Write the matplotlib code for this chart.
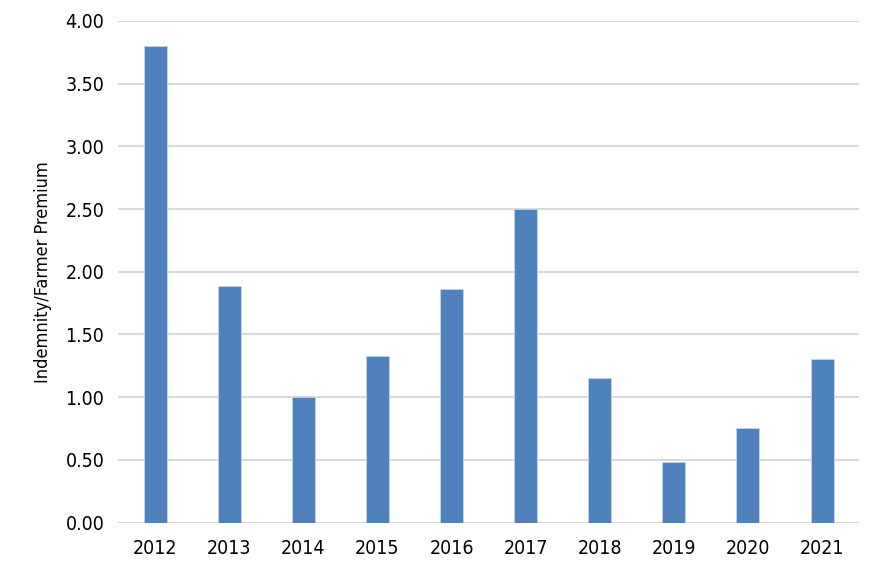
import matplotlib
matplotlib.use("Agg")
import matplotlib.pyplot as plt
import numpy as np

years = ["2012", "2013", "2014", "2015", "2016", "2017", "2018", "2019", "2020", "2021"]
ratio = [3.80, 1.89, 1.00, 1.33, 1.86, 2.50, 1.15, 0.48, 0.75, 1.30]
yticks = [0.0, 0.5, 1.0, 1.5, 2.0, 2.5, 3.0, 3.5, 4.0]

plt.rcParams['font.family'] = ['DejaVu Sans']
plt.rcParams['font.stretch'] = 'condensed'

fig = plt.figure(figsize=(8.82, 5.70), dpi=100)
ax = fig.add_axes([0.134, 0.0833, 0.840, 0.880])

x = np.arange(len(years))
ax.bar(x, ratio, width=0.31, color='#4F81BD', edgecolor='#c5d5ea', linewidth=0.6, zorder=3)

ax.set_xlim(-0.5, len(years) - 0.5)
ax.set_ylim(0, 4.0)
ax.set_yticks(yticks)
ax.set_yticklabels(['%.2f' % v for v in yticks])
ax.set_xticks(x)
ax.set_xticklabels(years)
ax.yaxis.grid(True, color='#d9d9d9', linewidth=1.5, zorder=0)
ax.set_axisbelow(True)
for s in ax.spines.values():
    s.set_visible(False)
ax.tick_params(axis='both', length=0, labelsize=14, colors='#000000')
ax.tick_params(axis='x', pad=12)
ax.tick_params(axis='y', pad=10)
ax.set_ylabel('Indemnity/Farmer Premium', fontsize=13, labelpad=10)

fig.savefig('out.png', dpi=100)
